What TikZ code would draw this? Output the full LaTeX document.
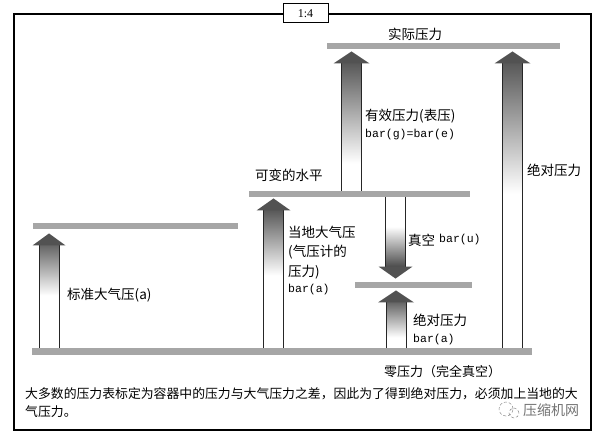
\documentclass[tikz,border=0pt]{standalone}
\usepackage{fontspec}
\setmainfont{Noto Sans CJK SC}
\newfontfamily\monof{Liberation Mono}
\newfontfamily\seriff{Liberation Serif}
\usetikzlibrary{calc}
\newcommand\fatup[5]{%
  \shade[top color=#5, bottom color=white] let \p1=(#1),\p2=(#2) in
    (\x1-10pt,\y2-12pt) rectangle (\x1+10pt,\y2-12pt-#3);
  \draw[shaftline] let \p1=(#1),\p2=(#2) in
    (\x1-10pt,\y1) -- (\x1-10pt,\y2-12pt) (\x1+10pt,\y1) -- (\x1+10pt,\y2-12pt);
  \fill[headfill] let \p1=(#1),\p2=(#2) in
    (\x1,\y2) -- (\x1-#4,\y2-12pt) -- (\x1+#4,\y2-12pt) -- cycle;}
\newcommand\fatdown[5]{%
  \shade[top color=white, bottom color=#5] let \p1=(#1),\p2=(#2) in
    (\x1-10pt,\y2+12pt) rectangle (\x1+10pt,\y2+12pt+#3);
  \draw[shaftline] let \p1=(#1),\p2=(#2) in
    (\x1-10pt,\y1) -- (\x1-10pt,\y2+12pt) (\x1+10pt,\y1) -- (\x1+10pt,\y2+12pt);
  \fill[headfill] let \p1=(#1),\p2=(#2) in
    (\x1,\y2) -- (\x1-#4,\y2+12pt) -- (\x1+#4,\y2+12pt) -- cycle;}
\begin{document}
\begin{tikzpicture}[x=1pt,y=-1pt,
  bar/.style={fill=black!35, minimum height=6.5pt, inner sep=0pt, draw=none},
  shaftline/.style={draw=black!85, line width=1pt},
  headfill/.style={fill=black!68},
  lbl/.style={font=\fontsize{13.5}{15}\selectfont, inner sep=0pt, anchor=west},
  mlbl/.style={font=\monof\fontsize{11.5}{13}\selectfont, inner sep=0pt, anchor=west},
  captext/.style={font=\fontsize{12.85}{15}\selectfont, inner sep=0pt, anchor=west}]
\useasboundingbox (0,0) rectangle (601,436);
\fill[white] (0,0) rectangle (601,436);
% frame
\draw[line width=1.2pt] (14,14) rectangle (591,430);
\node[draw, fill=white, line width=1pt, minimum width=45pt, minimum height=19pt,
  inner sep=0pt, font=\seriff\fontsize{12}{14}\selectfont] (ratio) at (305.5,13.5) {1:4};
% bars
\node[bar, minimum width=233pt] (actual) at (443.5,46) {};
\node[bar, minimum width=221pt] (var) at (359.5,194) {};
\node[bar, minimum width=205pt] (std) at (135.5,226) {};
\node[bar, minimum width=117pt] (vac) at (413.5,285) {};
\node[bar, minimum width=500pt, minimum height=7.5pt] (zero) at (282,351.5) {};
% arrow columns
\coordinate (xs) at (49,0);
\coordinate (xl) at (273.5,0);
\coordinate (xg) at (351.5,0);
\coordinate (xa) at (512.5,0);
\coordinate (xv) at (395.5,0);
\coordinate (xb) at (396,0);
\coordinate (ts) at ($(std.south -| xs)+(0,4)$);
\coordinate (tl) at ($(var.south -| xl)+(0,1)$);
\coordinate (tg) at ($(actual.south -| xg)+(0,2)$);
\coordinate (ta) at ($(actual.south -| xa)+(0,2)$);
\coordinate (tv) at ($(vac.north -| xv)+(0,-3)$);
\coordinate (tb) at ($(vac.south -| xb)+(0,2)$);
\fatup{zero.north -| xs}{ts}{50pt}{16.5pt}{black!60}
\fatup{zero.north -| xl}{tl}{65pt}{17pt}{black!65}
\fatup{var.north -| xg}{tg}{100pt}{18pt}{black!65}
\fatup{zero.north -| xa}{ta}{130pt}{18pt}{black!65}
\fatdown{var.south -| xv}{tv}{40pt}{17pt}{black!70}
\fatup{zero.north -| xb}{tb}{35pt}{18pt}{black!60}
% labels
\node[lbl, anchor=center] (lactual) at (415,34) {实际压力};
\node[lbl] (lgauge1) at (365,116) {有效压力(表压)};
\node[mlbl] (lgauge2) at (365,135) {bar(g)=bar(e)};
\node[lbl] (labs1) at (527,170) {绝对压力};
\node[lbl] (lvar) at (255,175) {可变的水平};
\node[lbl] (lloc1) at (288,232) {当地大气压};
\node[lbl] (lloc2) at (288,252) {(气压计的};
\node[lbl] (lloc3) at (288,272) {压力)};
\node[mlbl] (lloc4) at (288,290) {bar(a)};
\node[lbl] (lvacl1) at (408,240) {真空};
\node[mlbl] (lvacl2) at (439,240) {bar(u)};
\node[lbl] (lstd) at (67,295) {标准大气压(a)};
\node[lbl] (labs2) at (413,320) {绝对压力};
\node[mlbl] (labs3) at (413,340) {bar(a)};
\node[lbl, font=\fontsize{13}{15}\selectfont] (lzero) at (384,372) {零压力（完全真空）};
% caption
\node[captext] (cap1) at (25,394) {大多数的压力表标定为容器中的压力与大气压力之差，因此为了得到绝对压力，必须加上当地的大};
\node[captext] (cap2) at (25,412) {气压力。};
% watermark
\draw[black!45, densely dashed, line width=0.5pt] (506,409) circle (7pt);
\draw[black!45, densely dashed, line width=0.5pt] (514,413) circle (5pt);
\node[lbl, text=black!55, font=\fontsize{14}{16}\selectfont] (wm) at (523,410) {压缩机网};
\end{tikzpicture}
\end{document}
